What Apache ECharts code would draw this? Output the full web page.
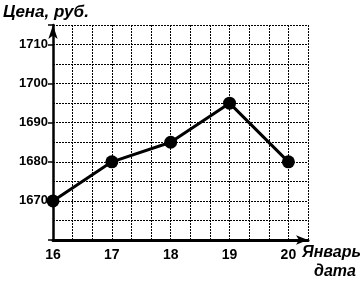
<!DOCTYPE html>
<html>
<head>
<meta charset="utf-8">
<script src="https://cdn.jsdelivr.net/npm/echarts@6/dist/echarts.min.js"></script>
<style>
  html, body { margin: 0; padding: 0; background: #fff; }
  #chart { width: 360px; height: 282px; }
</style>
</head>
<body>
<div id="chart"></div>
<script>
// даты (январь) и цена, руб.
const days = [16, 17, 18, 19, 20];
const prices = [1670, 1680, 1685, 1695, 1680];
const yTickLabels = [1670, 1680, 1690, 1700, 1710];

const chart = echarts.init(document.getElementById('chart'));
const font = '"Liberation Sans", Arial, sans-serif';

const option = {
  animation: false,
  grid: { left: 53, right: 52, top: 25, bottom: 42 },
  xAxis: {
    type: 'value',
    min: 16,
    max: 20 + 1 / 3,
    interval: 1 / 3,
    axisLine: {
      show: true,
      symbol: ['none', 'arrow'],
      symbolSize: [7, 12],
      lineStyle: { color: '#000', width: 3 }
    },
    axisTick: { show: false },
    splitLine: { show: true, lineStyle: { color: '#000', type: [2, 1], width: 1 } },
    axisLabel: {
      margin: 8,
      color: '#000',
      fontFamily: font,
      fontWeight: 'bold',
      fontSize: 14,
      formatter: v => {
        const r = Math.round(v);
        return Math.abs(v - r) < 1e-6 && days.includes(r) ? String(r) : '';
      }
    }
  },
  yAxis: [
    {
      // сетка через 5 руб.
      type: 'value',
      min: 1660,
      max: 1715,
      interval: 5,
      axisLine: {
        show: true,
        symbol: ['none', 'arrow'],
        symbolSize: [7, 14],
        lineStyle: { color: '#000', width: 2.5 }
      },
      axisTick: { show: false },
      axisLabel: { show: false },
      splitLine: { show: true, lineStyle: { color: '#000', type: [2, 1], width: 1 } }
    },
    {
      // подписи и штрихи через 10
      type: 'value',
      position: 'left',
      min: 1660,
      max: 1715,
      interval: 10,
      axisLine: { show: false },
      axisTick: { show: true, length: 5, lineStyle: { color: '#000', width: 1.5 } },
      splitLine: { show: false },
      axisLabel: {
        margin: 5,
        color: '#000',
        fontFamily: font,
        fontWeight: 'bold',
        fontSize: 13,
        formatter: v => (yTickLabels.includes(v) ? String(v) : '')
      }
    }
  ],
  series: [
    {
      type: 'line',
      yAxisIndex: 0,
      data: days.map((d, i) => [d, prices[i]]),
      symbol: 'circle',
      symbolSize: 13,
      itemStyle: { color: '#000' },
      lineStyle: { color: '#000', width: 3 },
      z: 5
    }
  ],
  graphic: [
    {
      type: 'text',
      left: 3,
      top: 4,
      style: {
        text: 'Цена, руб.',
        fill: '#000',
        font: 'italic bold 17px ' + font
      }
    },
    {
      type: 'text',
      left: 302,
      top: 245,
      style: {
        text: 'Январь,',
        fill: '#000',
        font: 'italic bold 16px ' + font
      }
    },
    {
      type: 'text',
      left: 314,
      top: 264,
      style: {
        text: 'дата',
        fill: '#000',
        font: 'italic bold 16px ' + font
      }
    }
  ]
};

chart.setOption(option);
</script>
</body>
</html>
